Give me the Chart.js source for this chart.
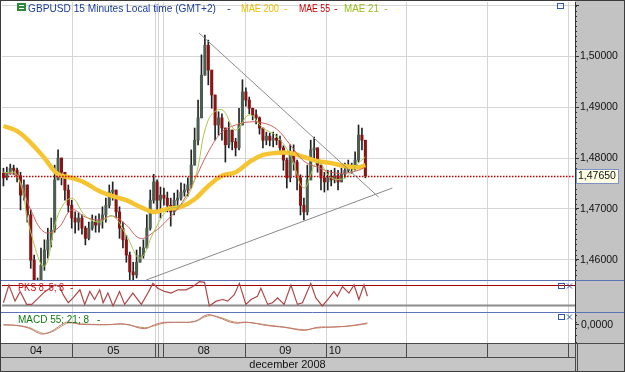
<!DOCTYPE html>
<html>
<head>
<meta charset="utf-8">
<script src="https://cdn.jsdelivr.net/npm/chart.js@4.4.1/dist/chart.umd.min.js"></script>
<style>
  html, body { margin: 0; padding: 0; background: #fff; }
  #wrap { position: relative; width: 625px; height: 372px; overflow: hidden; background: #fff; }
  #wrap canvas { position: absolute; left: 0; }
  #frame { position: absolute; left: 0; top: 0; width: 625px; height: 372px; box-sizing: border-box;
           border: 1px solid #3c3c3c; pointer-events: none; }
</style>
</head>
<body>
<div id="wrap">
  <canvas id="mainChart" width="625" height="280" style="top:0"></canvas>
  <canvas id="pksChart" width="625" height="32" style="top:280px"></canvas>
  <canvas id="macdChart" width="625" height="60" style="top:312px"></canvas>
  <div id="frame"></div>
</div>
<script>
// GBPUSD, bougies d'une heure environ
const dayBounds = [20.08, 44.32, 45.34, 46.65, 70.74, 94.39, 118.04, 141.69, 165.34];
const dayLabels = ['04', '05', '', '', '08', '09', '10', '', '', ''];
const monthLabel = 'december 2008';

const firstOpen = 1.4770;
const closes = [1.4761,1.4772,1.4780,1.4776,1.4765,1.4727,1.4747,1.4688,1.4599,1.4556,
  1.4540,1.4589,1.4619,1.4639,1.4658,1.4757,1.4800,1.4772,1.4737,1.4707,
  1.4682,1.4674,1.4682,1.4662,1.4642,1.4662,1.4674,1.4668,1.4678,1.4688,
  1.4707,1.4733,1.4737,1.4694,1.4662,1.4639,1.4609,1.4576,1.4570,1.4595,
  1.4609,1.4623,1.4662,1.4717,1.4753,1.4717,1.4727,1.4721,1.4707,1.4694,
  1.4717,1.4721,1.4733,1.4737,1.4747,1.4786,1.4835,1.4879,1.4963,1.5022,
  1.4973,1.4924,1.4865,1.4879,1.4859,1.4826,1.4855,1.4832,1.4820,1.4865,
  1.4930,1.4914,1.4898,1.4885,1.4879,1.4859,1.4835,1.4843,1.4835,1.4839,
  1.4835,1.4820,1.4796,1.4761,1.4806,1.4792,1.4761,1.4707,1.4694,1.4757,
  1.4816,1.4820,1.4786,1.4761,1.4753,1.4761,1.4757,1.4765,1.4753,1.4768,
  1.4776,1.4784,1.4780,1.4796,1.4845,1.4835,1.4765];
const highs = [1.4780,1.4782,1.4788,1.4786,1.4780,1.4772,1.4757,1.4747,1.4698,1.4609,
  1.4564,1.4623,1.4639,1.4662,1.4682,1.4786,1.4816,1.4796,1.4772,1.4747,
  1.4717,1.4694,1.4692,1.4688,1.4666,1.4674,1.4688,1.4686,1.4690,1.4704,
  1.4721,1.4747,1.4753,1.4737,1.4704,1.4674,1.4648,1.4615,1.4595,1.4619,
  1.4625,1.4639,1.4688,1.4737,1.4768,1.4757,1.4743,1.4741,1.4733,1.4721,
  1.4731,1.4737,1.4751,1.4749,1.4761,1.4816,1.4859,1.4914,1.5003,1.5042,
  1.5032,1.4963,1.4924,1.4891,1.4887,1.4859,1.4871,1.4855,1.4839,1.4898,
  1.4954,1.4938,1.4920,1.4898,1.4895,1.4881,1.4859,1.4851,1.4849,1.4851,
  1.4847,1.4843,1.4824,1.4800,1.4826,1.4826,1.4796,1.4767,1.4721,1.4786,
  1.4835,1.4841,1.4816,1.4786,1.4772,1.4776,1.4776,1.4780,1.4776,1.4780,
  1.4790,1.4796,1.4790,1.4812,1.4865,1.4859,1.4832];
const lows = [1.4745,1.4757,1.4768,1.4767,1.4753,1.4698,1.4717,1.4674,1.4583,1.4540,
  1.4524,1.4550,1.4579,1.4603,1.4625,1.4654,1.4767,1.4747,1.4717,1.4694,
  1.4662,1.4652,1.4658,1.4650,1.4629,1.4639,1.4658,1.4654,1.4654,1.4662,
  1.4674,1.4702,1.4717,1.4682,1.4642,1.4623,1.4595,1.4560,1.4558,1.4564,
  1.4595,1.4603,1.4623,1.4658,1.4711,1.4694,1.4682,1.4707,1.4694,1.4666,
  1.4688,1.4705,1.4717,1.4725,1.4725,1.4741,1.4800,1.4826,1.4879,1.4969,
  1.4944,1.4898,1.4835,1.4845,1.4835,1.4792,1.4820,1.4816,1.4804,1.4816,
  1.4895,1.4902,1.4887,1.4875,1.4867,1.4847,1.4820,1.4826,1.4824,1.4822,
  1.4826,1.4812,1.4776,1.4741,1.4753,1.4776,1.4737,1.4688,1.4678,1.4688,
  1.4767,1.4796,1.4772,1.4737,1.4733,1.4737,1.4745,1.4751,1.4737,1.4757,
  1.4761,1.4772,1.4770,1.4776,1.4792,1.4816,1.4761];

// moyennes mobiles lues toutes les 4 bougies
const maBars = [0,4,8,12,16,20,24,28,32,36,40,44,48,52,56,60,64,68,72,76,80,84,88,92,96,100,104,106];
const mae200 = [1.4863,1.4853,1.4830,1.4800,1.4768,1.4761,1.4751,1.4735,1.4725,1.4717,1.4704,1.4694,1.4700,1.4704,
  1.4719,1.4745,1.4765,1.4772,1.4792,1.4806,1.4810,1.4810,1.4802,1.4794,1.4790,1.4784,1.4782,1.4786];
const mae55 = [1.4772,1.4763,1.4698,1.4654,1.4662,1.4698,1.4684,1.4678,1.4686,1.4668,1.4642,1.4654,1.4678,1.4709,
  1.4757,1.4812,1.4851,1.4865,1.4871,1.4869,1.4857,1.4826,1.4794,1.4782,1.4772,1.4770,1.4776,1.4782];
const mae21 = [1.4772,1.4767,1.4654,1.4587,1.4688,1.4721,1.4686,1.4674,1.4686,1.4648,1.4603,1.4654,1.4698,1.4707,
  1.4757,1.4875,1.4895,1.4855,1.4885,1.4859,1.4843,1.4806,1.4741,1.4792,1.4761,1.4761,1.4790,1.4802];

// lignes de tendance
const trendUpperBars = [57.3, 109.9];
const trendUpperPrices = [1.5046, 1.4723];
const trendLowerBars = [41.8, 113.9];
const trendLowerPrices = [1.4560, 1.4741];

const priceTicks = [1.46, 1.47, 1.48, 1.49, 1.50, 1.51];

// stochastique PKS 8;5;3
const pksBars = [0,1.6,3.4,4.9,6.8,8.3,12.2,15.1,16.5,17.5,19.0,20.4,22.4,23.8,25.3,26.7,28.2,29.2,30.6,32.1,
  34.0,35.5,37.9,40.4,42.3,43.8,45.2,47.2,49.1,51.1,53.5,55.5,57.4,58.9,60.3,62.3,64.2,65.7,67.6,69.1,
  71.0,72.5,74.4,75.4,77.4,78.8,80.3,82.2,84.2,86.1,87.6,90.0,91.5,93.4,95.4,96.8,97.8,99.3,101.2,102.7,
  104.1,105.6,106.6];
const pksVals = [26,81,31,61,21,21,61,81,76,51,26,41,66,21,61,36,66,26,56,16,
  61,21,56,21,56,86,71,61,56,66,66,76,91,89,16,31,36,31,51,86,
  21,36,46,71,21,26,41,21,81,21,26,86,41,16,41,61,46,76,56,81,
  36,81,46];
const pksLevels = [80, 20];

// MACD 55;21;8
const macdBars = [0,3.4,7.3,10.2,11.7,14.1,17.0,19.0,21.9,25.8,30.6,35.5,41.3,44.3,47.2,51.1,56.0,59.8,62.8,67.6,
  71.5,77.4,82.2,88.1,91.9,96.8,101.7,106.6];
const macdMain = [0.0001,-0.0001,-0.0009,-0.0024,-0.0027,-0.0019,0.0001,0.0009,0.0003,0.0001,0.0001,0.0003,-0.0011,0.0001,
  0.0008,0.0008,0.0011,0.0031,0.0023,0.0006,0.0008,-0.0002,-0.0007,-0.0016,-0.0007,-0.0006,-0.0002,0.0006];
const macdSignal = [0,-0.0001,-0.0007,-0.0020,-0.0025,-0.0021,-0.0004,0.0006,0.0004,0.0002,0.0001,0.0002,-0.0008,-0.0002,
  0.0006,0.0008,0.0010,0.0027,0.0025,0.0009,0.0008,0.0000,-0.0006,-0.0014,-0.0009,-0.0006,-0.0003,0.0004];


const FONT = "'Liberation Sans', Arial, sans-serif";
Chart.defaults.font.family = FONT;
Chart.defaults.elements.point.radius = 0;

const X_MIN = -0.42, X_MAX = 167.4;
const AXIS_W = 50;
const GRAY = '#c3c3c3';
const BLUE_LINE = '#5b74b5';

const fmt5 = v => v.toFixed(5).replace('.', ',');
const pts = (xs, ys) => xs.map((x, i) => ({x: x, y: ys[i]}));

const opens = closes.map((c, i) => i === 0 ? firstOpen : closes[i - 1]);

function xScale() {
  return {type: 'linear', min: X_MIN, max: X_MAX, offset: false, display: false};
}

function fixWidth(s) {
  s.width = AXIS_W;
  s.paddingTop = 0;
  s.paddingBottom = 0;
}

// fond gris de l'axe de droite
const axisBg = {
  id: 'axisBg',
  beforeDraw(chart) {
    const {ctx, chartArea: a, width, height} = chart;
    ctx.save();
    ctx.fillStyle = GRAY;
    ctx.fillRect(a.right, 0, width - a.right, height);
    ctx.restore();
  }
};

// séparateurs de jours
const dayLines = {
  id: 'dayLines',
  beforeDatasetsDraw(chart) {
    const {ctx, chartArea: a, scales: {x}} = chart;
    ctx.save();
    ctx.strokeStyle = '#d4d4d4';
    ctx.lineWidth = 1;
    dayBounds.forEach(b => {
      const px = Math.round(x.getPixelForValue(b)) + 0.5;
      ctx.beginPath(); ctx.moveTo(px, a.top); ctx.lineTo(px, a.bottom); ctx.stroke();
    });
    ctx.restore();
  }
};

function drawBoxX(ctx, x, y, withX) {
  ctx.strokeStyle = '#3556a8';
  ctx.lineWidth = 1;
  ctx.strokeRect(x + 0.5, y + 0.5, 6, 5);
  if (withX) {
    ctx.beginPath();
    ctx.moveTo(x + 9, y + 0.5); ctx.lineTo(x + 14, y + 5.5);
    ctx.moveTo(x + 14, y + 0.5); ctx.lineTo(x + 9, y + 5.5);
    ctx.stroke();
  }
}

const mainOverlay = {
  id: 'mainOverlay',
  afterDatasetsDraw(chart) {
    const {ctx, chartArea: a, scales: {y}} = chart;
    const last = closes[closes.length - 1];
    const py = Math.round(y.getPixelForValue(last)) + 0.5;
    ctx.save();
    ctx.strokeStyle = '#c40000';
    ctx.lineWidth = 1.5;
    ctx.setLineDash([1.5, 1.5]);
    ctx.beginPath(); ctx.moveTo(a.left, py); ctx.lineTo(a.right, py); ctx.stroke();
    ctx.restore();
  },
  afterDraw(chart) {
    const {ctx, chartArea: a, scales: {y}} = chart;
    ctx.save();
    // petites graduations
    ctx.strokeStyle = '#333';
    ctx.lineWidth = 1;
    for (let k = Math.ceil(y.min * 1000); k <= Math.floor(y.max * 1000); k++) {
      const py = Math.round(y.getPixelForValue(k / 1000)) + 0.5;
      ctx.beginPath(); ctx.moveTo(a.right, py); ctx.lineTo(a.right + 2, py); ctx.stroke();
    }
    // étiquette du dernier cours
    const last = closes[closes.length - 1];
    const py = Math.round(y.getPixelForValue(last));
    ctx.fillStyle = '#ffffe4';
    ctx.fillRect(a.right + 1, py - 7, 43, 15);
    ctx.strokeStyle = '#7d92c8';
    ctx.strokeRect(a.right + 1.5, py - 6.5, 42, 14);
    ctx.fillStyle = '#111';
    ctx.font = '10.5px ' + FONT;
    ctx.textBaseline = 'middle';
    ctx.textAlign = 'left';
    ctx.fillText(fmt5(last), a.right + 3, py + 0.5);

    // titre
    ctx.fillStyle = '#2f8a3c';
    ctx.fillRect(17, 3, 9, 8);
    ctx.strokeStyle = '#fff';
    ctx.beginPath();
    ctx.moveTo(19, 5.5); ctx.lineTo(24, 5.5);
    ctx.moveTo(19, 8.5); ctx.lineTo(24, 8.5);
    ctx.stroke();
    const parts = [
      ['GBPUSD 15 Minutes Local time (GMT+2)', '#1b3d9c', 28, 188],
      ['-', '#1b3d9c', 227, 6],
      ['MAE 200', '#f0bd00', 241, 38],
      ['-', '#f0bd00', 284, 6],
      ['MAE 55', '#c80000', 299, 31],
      ['-', '#c80000', 334, 6],
      ['MAE 21', '#98bf1a', 344, 35],
      ['-', '#98bf1a', 384, 6]
    ];
    ctx.font = '11px ' + FONT;
    ctx.textBaseline = 'alphabetic';
    parts.forEach(p => {
      ctx.fillStyle = p[1];
      ctx.fillText(p[0], p[2], 12, p[3]);
    });
    drawBoxX(ctx, 557, 3, false);
    ctx.restore();
  }
};

const pksOverlay = {
  id: 'pksOverlay',
  beforeDatasetsDraw(chart) {
    const {ctx, chartArea: a, scales: {y}} = chart;
    ctx.save();
    const p1 = Math.round(y.getPixelForValue(pksLevels[0])) + 0.5;
    const p2 = Math.round(y.getPixelForValue(pksLevels[1])) + 0.5;
    ctx.strokeStyle = '#a00000'; ctx.lineWidth = 1;
    ctx.beginPath(); ctx.moveTo(a.left, p1); ctx.lineTo(a.right, p1); ctx.stroke();
    ctx.strokeStyle = '#8c8c8c'; ctx.lineWidth = 2;
    ctx.beginPath(); ctx.moveTo(a.left, p2); ctx.lineTo(a.right, p2); ctx.stroke();
    ctx.restore();
  },
  afterDraw(chart) {
    const {ctx, width} = chart;
    ctx.save();
    ctx.strokeStyle = BLUE_LINE; ctx.lineWidth = 1;
    ctx.beginPath(); ctx.moveTo(0, 0.5); ctx.lineTo(width, 0.5); ctx.stroke();
    ctx.font = '10px ' + FONT;
    ctx.textBaseline = 'middle';
    ctx.fillStyle = '#cc1010';
    ctx.fillText('PKS 8; 5; 3', 18, 8, 46);
    ctx.fillText('-', 70, 8);
    drawBoxX(ctx, 558, 3, true);
    ctx.restore();
  }
};

const macdOverlay = {
  id: 'macdOverlay',
  afterDraw(chart) {
    const {ctx, chartArea: a, scales: {x, y}, width, height} = chart;
    ctx.save();
    ctx.strokeStyle = BLUE_LINE; ctx.lineWidth = 1;
    ctx.beginPath(); ctx.moveTo(0, 0.5); ctx.lineTo(width, 0.5); ctx.stroke();
    ctx.font = '10px ' + FONT;
    ctx.textBaseline = 'middle';
    ctx.fillStyle = '#0e7a0e';
    ctx.fillText('MACD 55; 21; 8', 18, 8, 71);
    ctx.fillText('-', 97, 8);
    drawBoxX(ctx, 558, 2, true);

    // graduations secondaires
    ctx.strokeStyle = '#333';
    for (let k = -5; k <= 3; k += 2) {
      const py = Math.round(y.getPixelForValue(k / 1000)) + 0.5;
      ctx.beginPath(); ctx.moveTo(a.right, py); ctx.lineTo(a.right + 2, py); ctx.stroke();
    }

    // lignes des dates
    const r1 = a.bottom, r2 = a.bottom + 14, r3 = height - 1;
    ctx.fillStyle = '#c6c6c6';
    ctx.fillRect(0, r1, a.right, height - r1);
    ctx.strokeStyle = '#4a4a4a';
    ctx.lineWidth = 1;
    ctx.beginPath();
    ctx.moveTo(0, r1 + 0.5); ctx.lineTo(width, r1 + 0.5);
    ctx.moveTo(0, r2 + 0.5); ctx.lineTo(a.right, r2 + 0.5);
    ctx.moveTo(a.right + 0.5, r1); ctx.lineTo(a.right + 0.5, r3);
    ctx.moveTo(a.right + 2.5, r1); ctx.lineTo(a.right + 2.5, r3);
    ctx.stroke();
    const edges = [0].concat(dayBounds.map(b => x.getPixelForValue(b)), [a.right]);
    const lastBar = closes.length - 1;
    ctx.fillStyle = '#111';
    ctx.font = '11px ' + FONT;
    for (let i = 0; i < dayLabels.length; i++) {
      const l = edges[i], r = edges[i + 1];
      if (i > 0) {
        const px = Math.round(l) + 0.5;
        ctx.beginPath(); ctx.moveTo(px, r1); ctx.lineTo(px, r2); ctx.stroke();
      }
      if (!dayLabels[i]) continue;
      const lb = i === 0 ? X_MIN : dayBounds[i - 1];
      const rb = i < dayBounds.length ? dayBounds[i] : X_MAX;
      if (lastBar >= lb && lastBar < rb) {
        ctx.textAlign = 'left';
        ctx.fillText(dayLabels[i], l + 3, (r1 + r2) / 2 + 1);
      } else {
        ctx.textAlign = 'center';
        ctx.fillText(dayLabels[i], (l + r) / 2, (r1 + r2) / 2 + 1);
      }
    }
    ctx.textAlign = 'center';
    ctx.fillText(monthLabel, a.right / 2, (r2 + r3) / 2 + 1);
    ctx.restore();
  }
};

const common = {
  responsive: false,
  animation: false,
  devicePixelRatio: 1,
  plugins: {legend: {display: false}, tooltip: {enabled: false}}
};

// graphique principal
new Chart(document.getElementById('mainChart').getContext('2d'), {
  type: 'bar',
  data: {
    datasets: [
      {type: 'line', data: pts(trendUpperBars, trendUpperPrices), borderColor: '#8a8a8a', borderWidth: 1},
      {type: 'line', data: pts(trendLowerBars, trendLowerPrices), borderColor: '#8a8a8a', borderWidth: 1},
      {type: 'line', label: 'MAE 21', data: pts(maBars, mae21), borderColor: '#a8c84a', borderWidth: 1, tension: 0.4},
      {type: 'line', label: 'MAE 55', data: pts(maBars, mae55), borderColor: '#d06060', borderWidth: 1, tension: 0.4},
      {type: 'line', label: 'MAE 200', data: pts(maBars, mae200), borderColor: '#f6c431', borderWidth: 4.5, tension: 0.4},
      {
        label: 'corps',
        data: closes.map((c, i) => ({x: i, y: [opens[i], c]})),
        backgroundColor: closes.map((c, i) => c >= opens[i] ? '#4d5e50' : '#8a1414'),
        barThickness: 2.4,
        minBarLength: 1,
        grouped: false
      },
      {
        label: 'mèches',
        data: closes.map((c, i) => ({x: i, y: [Math.min(lows[i], opens[i], c), Math.max(highs[i], opens[i], c)]})),
        backgroundColor: '#222',
        barThickness: 1,
        grouped: false
      }
    ]
  },
  options: Object.assign({}, common, {
    layout: {padding: {left: 2, top: 2, right: 0, bottom: 0}},
    scales: {
      x: xScale(),
      y: {
        type: 'linear',
        position: 'right',
        min: 1.4560,
        max: 1.5107,
        afterFit: fixWidth,
        afterBuildTicks(s) { s.ticks = priceTicks.map(v => ({value: v})); },
        ticks: {
          callback: v => v > 1.505 ? '' : fmt5(v),
          font: {size: 10.5},
          color: '#111',
          padding: 1
        },
        grid: {color: '#d6d6d6', tickColor: '#333', tickLength: 4},
        border: {display: true, color: '#333'}
      }
    }
  }),
  plugins: [axisBg, dayLines, mainOverlay]
});

// stochastique
new Chart(document.getElementById('pksChart').getContext('2d'), {
  type: 'line',
  data: {
    datasets: [
      {data: pts(pksBars, pksVals), borderColor: '#b04848', borderWidth: 1.2, tension: 0}
    ]
  },
  options: Object.assign({}, common, {
    layout: {padding: {left: 2, top: 0, right: 0, bottom: 0}},
    scales: {
      x: xScale(),
      y: {
        position: 'right', min: -2.6, max: 96.4,
        afterFit: fixWidth,
        ticks: {display: false},
        grid: {display: false},
        border: {display: true, color: '#333'}
      }
    }
  }),
  plugins: [axisBg, dayLines, pksOverlay]
});

// MACD
new Chart(document.getElementById('macdChart').getContext('2d'), {
  type: 'line',
  data: {
    datasets: [
      {data: pts(macdBars, macdMain), borderColor: '#c87070', borderWidth: 1, tension: 0.4},
      {data: pts(macdBars, macdSignal), borderColor: '#b89a60', borderWidth: 1, tension: 0.4}
    ]
  },
  options: Object.assign({}, common, {
    layout: {padding: {left: 2, top: 0, right: 0, bottom: 29}},
    scales: {
      x: xScale(),
      y: {
        position: 'right', min: -0.0054, max: 0.0039,
        afterFit: fixWidth,
        afterBuildTicks(s) { s.ticks = [{value: 0}]; },
        ticks: {callback: v => v.toFixed(4).replace('.', ','), font: {size: 10.5}, color: '#111', padding: 2},
        grid: {drawOnChartArea: false, tickColor: '#333', tickLength: 4},
        border: {display: true, color: '#333'}
      }
    }
  }),
  plugins: [axisBg, dayLines, macdOverlay]
});
</script>
</body>
</html>
